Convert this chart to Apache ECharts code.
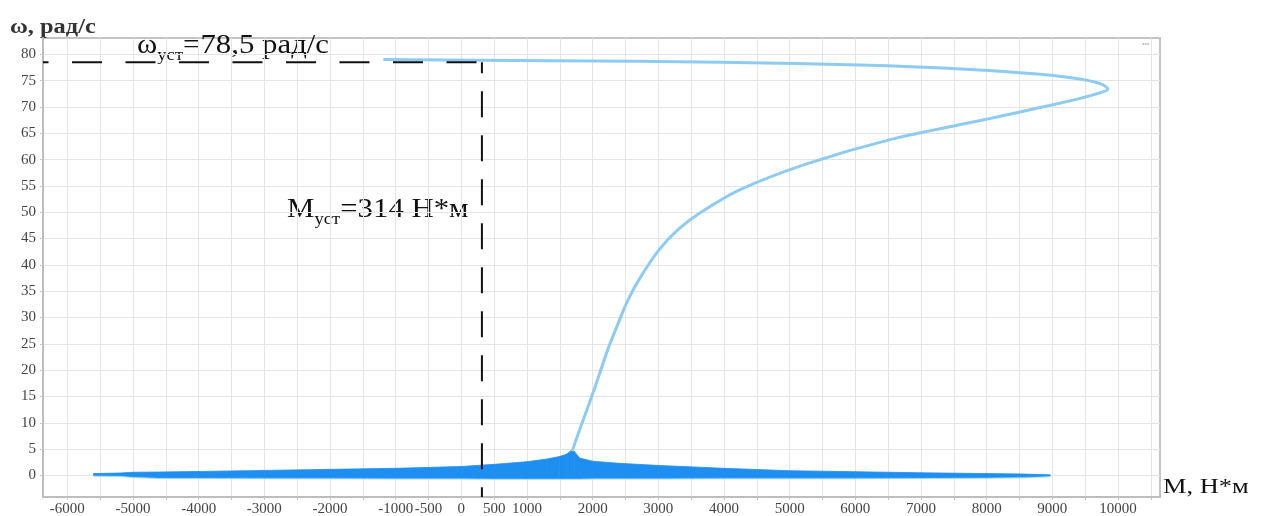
<!DOCTYPE html>
<html><head><meta charset="utf-8">
<script src="https://cdn.jsdelivr.net/npm/echarts@6/dist/echarts.min.js"></script>
<style>html,body{margin:0;padding:0;background:#fff}#c{width:1261px;height:516px}</style>
</head><body><div id="c"></div>
<script>
// ---- axis ticks / labels ----
const xGridValues = [-6000,-5500,-5000,-4500,-4000,-3500,-3000,-2500,-2000,-1500,-1000,-500,0,500,1000,1500,2000,2500,3000,3500,4000,4500,5000,5500,6000,6500,7000,7500,8000,8500,9000,9500,10000,10500];
const xLabelValues = [-6000,-5000,-4000,-3000,-2000,-1000,-500,0,500,1000,2000,3000,4000,5000,6000,7000,8000,9000,10000];
const yLabelValues = [0,5,10,15,20,25,30,35,40,45,50,55,60,65,70,75,80];
const xMin = -6370, xMax = 10640, yMin = -4.1, yMax = 83.1;

// ---- mechanical characteristic (steady branch), M [N*m], omega [rad/s] ----
const curveM = [1690, 1760, 1870, 1980, 2100, 2230, 2380, 2540, 2750, 3014, 3300, 3638, 4247, 5236, 6530, 7976, 9041, 9650, 9848, 9756, 9422, 8813, 7747, 6225, 3942, 1355, -1187];
const curveW = [4.6, 7.2, 11.0, 14.8, 19.1, 23.9, 28.6, 33.4, 38.1, 42.9, 46.7, 49.9, 54.3, 59.1, 63.8, 67.6, 70.5, 72.4, 73.4, 74.3, 75.3, 76.2, 77.1, 77.9, 78.5, 78.8, 79.0];

// ---- start-up oscillation band (envelope) ----
const bandM    = [-5600, -5200, -5000, -4600, -4000, -3000, -2000, -1000, 0, 500, 1000, 1300, 1500, 1600, 1680, 1720, 1800, 2000, 2400, 3000, 4000, 5000, 6000, 7000, 8000, 8600, 8970];
const bandHigh = [0.35, 0.45, 0.6, 0.65, 0.75, 0.95, 1.15, 1.35, 1.7, 2.1, 2.6, 3.1, 3.6, 4.0, 4.8, 4.6, 3.3, 2.7, 2.3, 1.9, 1.35, 0.9, 0.7, 0.5, 0.35, 0.25, 0.1];
const bandLow  = [0.05, 0.0, -0.2, -0.4, -0.4, -0.45, -0.45, -0.5, -0.5, -0.55, -0.55, -0.55, -0.55, -0.55, -0.55, -0.55, -0.55, -0.5, -0.5, -0.5, -0.45, -0.45, -0.45, -0.4, -0.35, -0.25, -0.05];

// ---- steady-state point ----
const M_set = 314, W_set = 78.5;

const FONT = "'Liberation Serif','Times New Roman',serif";
function tw(text, size, weight) {
  const c = document.createElement('canvas').getContext('2d');
  c.font = (weight || 'normal') + ' ' + size + 'px ' + FONT;
  return c.measureText(text).width;
}
function subText(x, baseline, main, sub, rest, size, subSize, sx) {
  const w1 = tw(main, size), w2 = tw(sub, subSize);
  const mk = (t, lx, s, dy) => ({type: 'text', x: lx, y: -0.3375 * s + dy,
    style: {text: t, fontFamily: FONT, fontSize: s, fill: '#111', verticalAlign: 'middle', align: 'left'}});
  return {type: 'group', x: x, y: baseline, scaleX: sx, children: [
    mk(main, 0, size, 0), mk(sub, w1, subSize, 6), mk(rest, w1 + w2, size, 0)
  ]};
}

const chart = echarts.init(document.getElementById('c'), null, {renderer: 'canvas'});
const lblStyle = {color: '#444', fontFamily: FONT, fontSize: 15, formatter: v => String(v)};
const bandData = bandM.map((m, i) => [m, bandLow[i], bandHigh[i]]);

chart.setOption({
  animation: false,
  backgroundColor: '#fff',
  grid: {left: 43, right: 101, top: 38, bottom: 19, show: true, borderColor: '#c4c4c4', borderWidth: 2, outerBoundsMode: 'none'},
  xAxis: {
    type: 'value', min: xMin, max: xMax,
    axisLine: {show: true, onZero: false, lineStyle: {color: '#bdbdbd', width: 2}},
    axisTick: {show: true, length: 3, customValues: xGridValues, lineStyle: {color: '#c4c4c4'}},
    axisLabel: Object.assign({customValues: xLabelValues, margin: 5, hideOverlap: false}, lblStyle),
    splitLine: {show: true, lineStyle: {color: '#e4e4e4', width: 1}}
  },
  yAxis: {
    type: 'value', min: yMin, max: yMax,
    axisLine: {show: true, onZero: false, lineStyle: {color: '#bdbdbd', width: 2}},
    axisTick: {show: true, length: 3, customValues: yLabelValues, lineStyle: {color: '#c4c4c4'}},
    axisLabel: Object.assign({customValues: yLabelValues, margin: 7, hideOverlap: false}, lblStyle),
    splitLine: {show: true, lineStyle: {color: '#e4e4e4', width: 1}}
  },
  series: [
    {type: 'custom', name: 'band', silent: true, z: 3, clip: true,
     data: bandData,
     encode: {x: 0, y: [1, 2]},
     renderItem: function (params, api) {
       const i = params.dataIndex;
       if (i >= bandData.length - 1) return null;
       const a = bandData[i], b = bandData[i + 1];
       const pts = [api.coord([a[0], a[1]]), api.coord([b[0], b[1]]), api.coord([b[0], b[2]]), api.coord([a[0], a[2]])];
       return {type: 'polygon', shape: {points: pts},
               style: {fill: '#1e8ff0', stroke: '#1e8ff0', lineWidth: 0.8}};
     }},
    {type: 'line', name: 'bandEdge', symbol: 'none', silent: true, z: 2,
     data: bandM.map((m, i) => [m, bandLow[i]]),
     lineStyle: {color: '#a5d6f7', width: 3}},
    {type: 'line', name: 'curve', symbol: 'none', smooth: 0.3, silent: true,
     data: curveM.map((m, i) => [m, curveW[i]]),
     lineStyle: {color: '#8ecbf2', width: 3}, z: 4},
    {type: 'line', name: 'setW', symbol: 'none', silent: true,
     data: [[xMin, W_set], [M_set, W_set]],
     lineStyle: {color: '#111', width: 2, type: [30, 23.5], dashOffset: 24.5}, z: 5},
    {type: 'line', name: 'setM', symbol: 'none', silent: true,
     data: [[M_set, W_set], [M_set, yMin]],
     lineStyle: {color: '#111', width: 2, type: [26, 18], dashOffset: 15}, z: 5}
  ],
  graphic: [
    {type: 'text', x: 10, y: 28, scaleX: 1.22, style: {text: 'ω, рад/с', fontFamily: FONT, fontSize: 20, fontWeight: 'bold', fill: '#333', verticalAlign: 'middle'}},
    {type: 'text', x: 1163, y: 487, scaleX: 1.2, style: {text: 'М, Н*м', fontFamily: FONT, fontSize: 22, fill: '#111', verticalAlign: 'middle'}},
    subText(137, 55, 'ω', 'уст', '=78,5 рад/с', 28, 17, 1.1),
    subText(287, 219, 'М', 'уст', '=314 Н*м', 28, 17, 1.1),
    {type: 'text', x: 1142, y: 44, style: {text: '•••', fontSize: 7, fill: '#bbb', verticalAlign: 'middle'}}
  ]
});
</script>
</body></html>
